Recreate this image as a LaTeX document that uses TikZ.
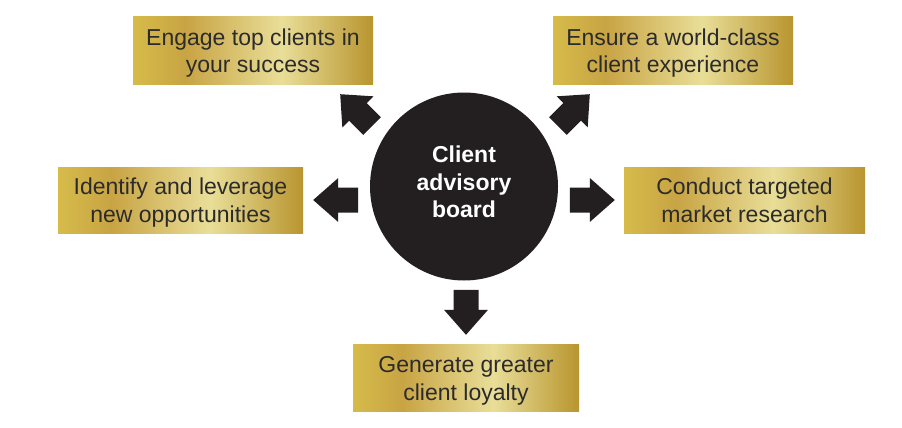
\documentclass[tikz,border=0pt]{standalone}
\usepackage{fontspec}
\setmainfont{Liberation Sans}
\usetikzlibrary{calc}
\definecolor{goldA}{HTML}{D6BB4A}
\definecolor{goldB}{HTML}{C8A444}
\definecolor{goldC}{HTML}{E9DE98}
\definecolor{goldD}{HTML}{B8952F}
\definecolor{ink}{HTML}{2B2B2B}
\definecolor{hub}{HTML}{231F20}
\pgfdeclarehorizontalshading{goldshade}{100bp}{color(0bp)=(goldA); color(25bp)=(goldA); color(36bp)=(goldB); color(56bp)=(goldC); color(75bp)=(goldD); color(100bp)=(goldD)}
\newcommand\twolines[2]{\rule{0pt}{22pt}#1\\#2\rule[-5pt]{0pt}{5pt}}
\tikzset{
  goldbox/.style={rectangle, shade, shading=goldshade, inner sep=0pt, minimum height=67pt,
    text=ink, font=\fontsize{23}{28}\selectfont, align=center},
  hubnode/.style={circle, fill=hub, minimum size=188pt, inner sep=0pt, text=white,
    font=\bfseries\fontsize{23}{27.5}\selectfont, align=center},
  blockarrow/.pic={\fill[hub] (0,0) -- (-25,22) -- (-25,12.5) -- (-45,12.5) -- (-45,-12.5) -- (-25,-12.5) -- (-25,-22) -- cycle;}
}
\begin{document}
\begin{tikzpicture}[x=1pt,y=-1pt]
\useasboundingbox (0,0) rectangle (902,428);
\fill[white] (0,0) rectangle (902,428);
\node[goldbox, minimum width=240pt] (engage) at (253,50.5) {\twolines{Engage top clients in}{your success}};
\node[goldbox, minimum width=240pt] (ensure) at (673,50.5) {\twolines{Ensure a world-class}{client experience}};
\node[goldbox, minimum width=245pt, minimum height=66pt] (identify) at (180.5,200) {\twolines{Identify and leverage}{new opportunities}};
\node[goldbox, minimum width=241pt, minimum height=66pt] (conduct) at (744.5,200) {\twolines{Conduct targeted}{market research}};
\node[goldbox, minimum width=226pt] (loyalty) at (466,377.5) {\twolines{Generate greater}{client loyalty}};
\node[hubnode] (cab) at (464,186.5) {Client\\advisory\\board\rule[-9pt]{0pt}{9pt}};
\pic[rotate=135] at ($(engage.south east)+(-33,10)$) {blockarrow};
\pic[rotate=45] at ($(ensure.south west)+(37,10)$) {blockarrow};
\pic[rotate=180] at ($(identify.east)+(10,0)$) {blockarrow};
\pic at ($(conduct.west)+(-9,0)$) {blockarrow};
\pic[rotate=-90] at ($(loyalty.north)+(0,-9)$) {blockarrow};
\end{tikzpicture}
\end{document}
